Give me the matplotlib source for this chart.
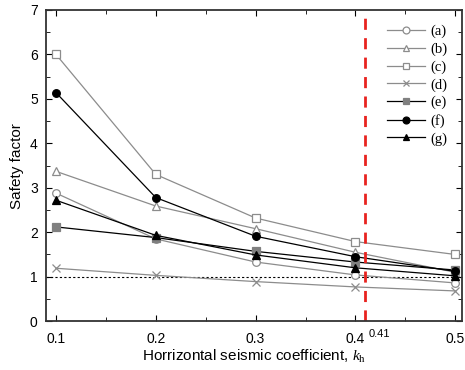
import matplotlib
matplotlib.use("Agg")
import matplotlib.pyplot as plt
from matplotlib.ticker import MultipleLocator

kh = [0.1, 0.2, 0.3, 0.4, 0.5]
fs_a = [2.88, 1.85, 1.33, 1.04, 0.86]
fs_b = [3.37, 2.59, 2.08, 1.55, 1.10]
fs_c = [6.00, 3.30, 2.32, 1.79, 1.50]
fs_d = [1.19, 1.03, 0.89, 0.77, 0.68]
fs_e = [2.12, 1.88, 1.57, 1.33, 1.15]
fs_f = [5.14, 2.78, 1.91, 1.45, 1.12]
fs_g = [2.72, 1.93, 1.49, 1.20, 1.02]
labels = ["(a)", "(b)", "(c)", "(d)", "(e)", "(f)", "(g)"]
kh_limit = 0.41

grey = "#8c8c8c"
styles = [
    dict(color=grey, marker="o", mfc="white", mec=grey),
    dict(color=grey, marker="^", mfc="white", mec=grey),
    dict(color=grey, marker="s", mfc="white", mec=grey),
    dict(color=grey, marker="x", mfc=grey, mec=grey),
    dict(color="black", marker="s", mfc="#808080", mec="#808080"),
    dict(color="black", marker="o", mfc="black", mec="black"),
    dict(color="black", marker="^", mfc="black", mec="black"),
]

plt.rcParams["font.family"] = ["Liberation Sans", "DejaVu Sans"]
plt.rcParams["mathtext.fontset"] = "custom"
plt.rcParams["mathtext.it"] = "Liberation Serif:italic"
plt.rcParams["mathtext.rm"] = "Liberation Serif"

fig = plt.figure(figsize=(4.65, 3.7), dpi=100)
ax = fig.add_axes([0.099, 0.132, 0.895, 0.841])

series = [fs_a, fs_b, fs_c, fs_d, fs_e, fs_f, fs_g]
for ys, lab, st in zip(series, labels, styles):
    ax.plot(kh, ys, lw=0.9, ms=5.5, mew=0.9, label=lab, **st)

ax.axhline(1.0, color="black", lw=0.8, ls=(0, (2, 2)), zorder=1)
ax.plot([kh_limit, kh_limit], [0, 6.85], color="#e8231f", lw=2.0, ls=(0, (4, 3)))
ax.text(kh_limit + 0.003, -0.18, "0.41", fontsize=8, ha="left", va="top")

ax.set_xlim(0.09, 0.507)
ax.set_ylim(0, 7)
ax.xaxis.set_major_locator(MultipleLocator(0.1))
ax.xaxis.set_minor_locator(MultipleLocator(0.05))
ax.yaxis.set_major_locator(MultipleLocator(1))
ax.yaxis.set_minor_locator(MultipleLocator(0.5))
ax.tick_params(which="both", direction="in", top=True, right=True, labelsize=10)
ax.tick_params(which="major", length=4)
ax.tick_params(which="minor", length=3)
ax.tick_params(axis="x", pad=8)
ax.tick_params(axis="y", pad=6)
for s in ax.spines.values():
    s.set_linewidth(1.3)
    s.set_color("#333333")

ax.set_xlabel("Horrizontal seismic coefficient, $\\mathit{k}_{\\mathrm{h}}$", fontsize=11, labelpad=1)
ax.set_ylabel("Safety factor", fontsize=11, labelpad=4)

leg = ax.legend(loc="upper right", frameon=False, handlelength=2.6, handletextpad=0.4,
                labelspacing=0.3, borderaxespad=0.6, markerscale=0.9,
                prop={"family": "Liberation Serif", "size": 10.5})

fig.savefig("out.png", dpi=100)
